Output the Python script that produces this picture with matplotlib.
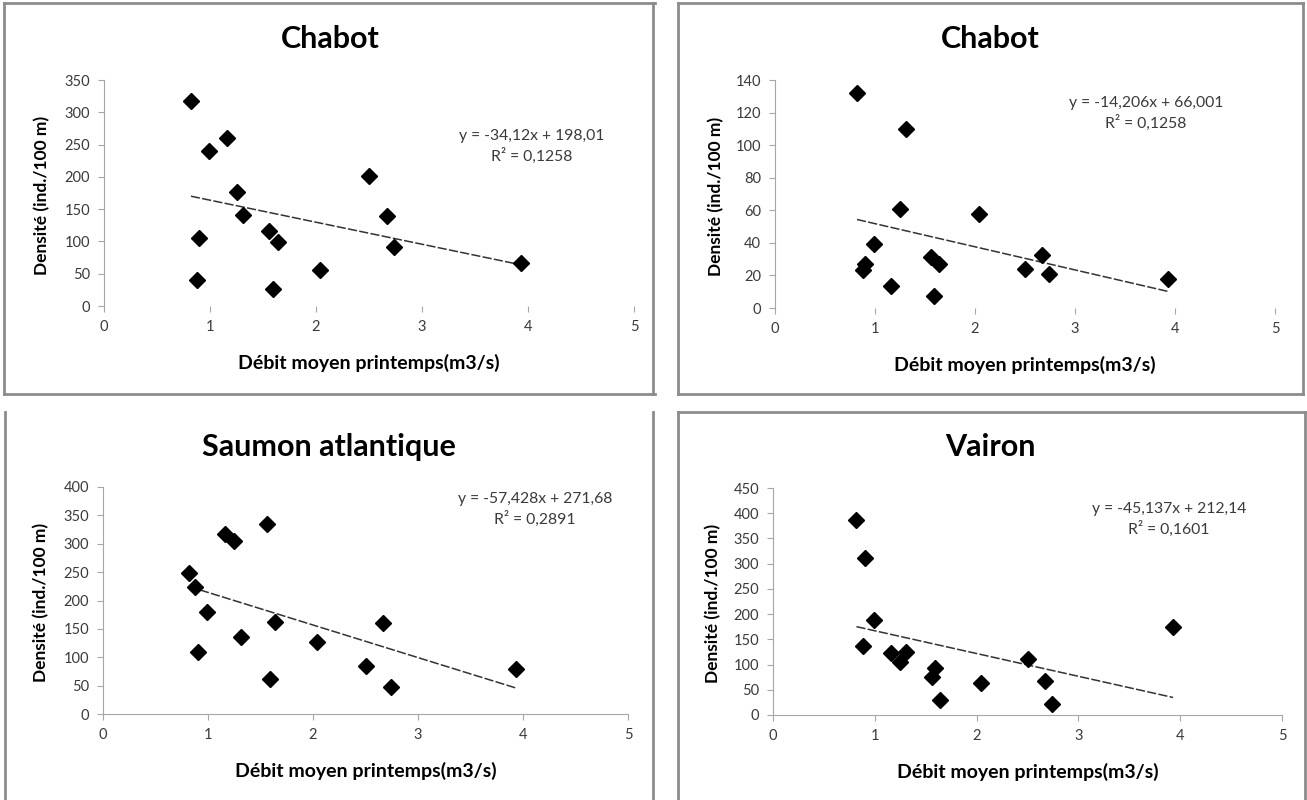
import matplotlib
matplotlib.use("Agg")
import matplotlib.pyplot as plt
from matplotlib.lines import Line2D
import numpy as np

plt.rcParams['font.family'] = ['Lato', 'DejaVu Sans']

# Data (débit moyen printemps, m3/s) shared by all stations
debit = [0.82, 0.88, 0.90, 0.99, 1.16, 1.25, 1.31, 1.56, 1.59, 1.64, 2.04, 2.50, 2.67, 2.74, 3.93]

chabot_a = [317, 40, 105, 240, 260, 177, 141, 116, 26, 99, 55, 201, 140, 91, 67]
chabot_b = [132, 23.6, 27.3, 39, 13.4, 60.5, 110, 31.4, 7.4, 27.3, 58, 24, 32.4, 21, 18]
saumon = [249, 224, 109, 179, 318, 305, 135, 334, 62, 162, 126, 84, 160, 47, 79]
vairon = [387, 137, 311, 189, 122, 105, 124, 76, 93, 30, 63, 112, 67, 21, 175]

titles = ["Chabot", "Chabot", "Saumon atlantique", "Vairon"]
series = [chabot_a, chabot_b, saumon, vairon]
slopes = [-34.12, -14.206, -57.428, -45.137]
intercepts = [198.01, 66.001, 271.68, 212.14]
eq_texts = ["y = -34,12x + 198,01", "y = -14,206x + 66,001",
            "y = -57,428x + 271,68", "y = -45,137x + 212,14"]
r2_texts = ["R² = 0,1258", "R² = 0,1258", "R² = 0,2891", "R² = 0,1601"]
ymax = [350, 140, 400, 450]
ystep = [50, 20, 50, 50]

W, H = 1307, 800
fig = plt.figure(figsize=(W / 100, H / 100), dpi=100)


def fx(px):
    return px / W


def fy(py):
    return 1 - py / H


# layout in pixels: axes box (x0, x1, y_top, y_bottom), panel centre, equation position
axes_px = [(104, 634, 80, 306), (775, 1275, 80, 308), (103, 628, 487, 714), (773, 1282, 488, 715)]
title_px = [(330, 39), (990, 39), (329, 447), (990, 447)]
eq_px = [(532, 136), (1146, 103), (535, 499), (1169, 509)]
bottom_spine = [False, False, True, True]

border_col = "#8c8c8c"
# panel borders
borders = [
    [(4, 655), (3, 3)], [(4, 655), (394, 394)], [(4, 4), (3, 394)], [(653, 653), (3, 394)],
    [(678, 1303), (3, 3)], [(678, 1303), (394, 394)], [(678, 678), (3, 394)], [(1303, 1303), (3, 394)],
    [(5, 5), (412, 800)], [(653, 653), (412, 800)],
    [(678, 1305), (412, 412)], [(678, 678), (412, 800)], [(1305, 1305), (412, 800)],
]
for xs, ys in borders:
    fig.add_artist(Line2D([fx(x) for x in xs], [fy(y) for y in ys], color=border_col, lw=2))

for i in range(4):
    x0, x1, yt, yb = axes_px[i]
    ax = fig.add_axes([fx(x0), fy(yb), fx(x1 - x0), (yb - yt) / H])
    x = np.array(debit)
    y = np.array(series[i])
    ax.plot(x, y, linestyle="none", marker="D", ms=8, color="black", zorder=3)

    xl = np.array([x.min(), x.max()])
    ax.plot(xl, slopes[i] * xl + intercepts[i], color="#333333", lw=1.1,
            linestyle=(0, (6, 1.5)), zorder=2)

    ax.set_xlim(0, 5)
    ax.set_ylim(0, ymax[i])
    ax.set_xticks(range(0, 6))
    ax.set_yticks(np.arange(0, ymax[i] + 1, ystep[i]))
    for s in ["top", "right"]:
        ax.spines[s].set_visible(False)
    ax.spines["left"].set_color("#a6a6a6")
    ax.spines["bottom"].set_color("#a6a6a6")
    ax.spines["bottom"].set_visible(bottom_spine[i])
    ax.tick_params(direction="out", length=4, color="#a6a6a6", labelsize=10.5,
                   labelcolor="#3a3a3a", pad=6)

    ax.set_xlabel("Débit moyen printemps(m3/s)", fontsize=14, fontweight="bold")
    ax.set_ylabel("Densité (ind./100 m)", fontsize=12.5, fontweight="bold")
    ax.xaxis.set_label_coords(0.5, -0.25)
    ax.xaxis.label.set_va("center")
    ax.yaxis.set_label_coords(-0.117, 0.49)
    ax.yaxis.label.set_va("center")

    tx, ty = title_px[i]
    fig.text(fx(tx), fy(ty), titles[i], fontsize=22, fontweight="bold",
             ha="center", va="center")
    ex, ey = eq_px[i]
    fig.text(fx(ex), fy(ey), eq_texts[i], fontsize=11.3, color="#3a3a3a",
             ha="center", va="center")
    fig.text(fx(ex), fy(ey + 20), r2_texts[i], fontsize=11.3, color="#3a3a3a",
             ha="center", va="center")

plt.savefig("out.png", dpi=100)
